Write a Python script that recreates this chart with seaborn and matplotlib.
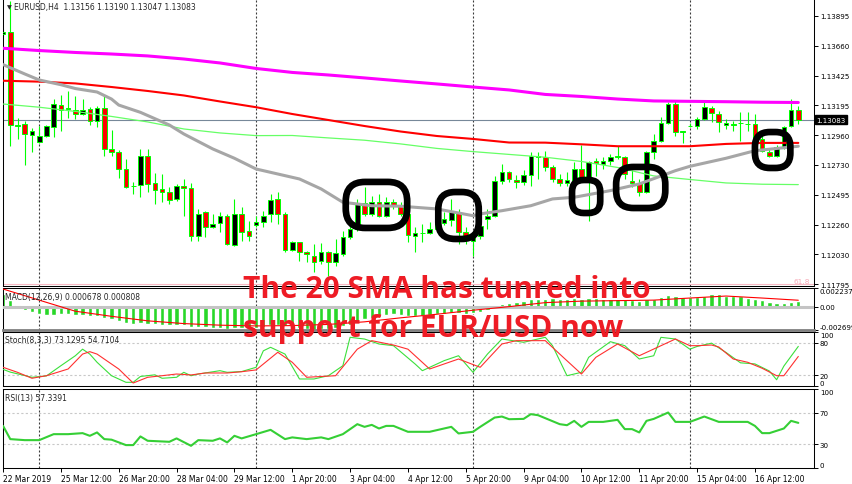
import matplotlib
matplotlib.use('Agg')
import matplotlib.pyplot as plt
import matplotlib.transforms as mtransforms
from matplotlib.patches import FancyBboxPatch
import seaborn as sns

sns.set_style('white')
plt.rcParams['font.family'] = ['DejaVu Sans']
plt.rcParams['axes.linewidth'] = 0.75

# EURUSD H4 candles, 22 Mar 2019 04:00 -> 17 Apr 2019 12:00 (one bar per 4 hours)
opens = [
    1.13755, 1.13771, 1.13041, 1.13047, 1.12965, 1.12911, 1.12953, 1.13023, 1.13197, 1.13166,
    1.13161, 1.13127, 1.13166, 1.13072, 1.13171, 1.12854, 1.12833, 1.12697, 1.12567, 1.12572,
    1.12801, 1.12585, 1.12541, 1.12515, 1.12463, 1.12562, 1.12546, 1.12176, 1.12359, 1.12241,
    1.12275, 1.12332, 1.12103, 1.12346, 1.12215, 1.12260, 1.12281, 1.12346, 1.12463, 1.12346,
    1.12067, 1.12124, 1.12051, 1.12020, 1.11981, 1.12051, 1.11968, 1.12033, 1.12163, 1.12228,
    1.12431, 1.12346, 1.12442, 1.12328, 1.12437, 1.12411, 1.12346, 1.12176, 1.12197, 1.12197,
    1.12228, 1.12275, 1.12301, 1.12359, 1.12202, 1.12137, 1.12176, 1.12306, 1.12332, 1.12606,
    1.12676, 1.12613, 1.12593, 1.12650, 1.12797, 1.12789, 1.12711, 1.12619, 1.12588, 1.12606,
    1.12697, 1.12632, 1.12762, 1.12736, 1.12762, 1.12797, 1.12789, 1.12606, 1.12588, 1.12520,
    1.12833, 1.12919, 1.13057, 1.13205, 1.12989, 1.13033, 1.13036, 1.13088, 1.13171, 1.13127,
    1.13041, 1.13041, 1.13057, 1.13049, 1.13049, 1.12932, 1.12833, 1.12801, 1.12867, 1.13036,
    1.13156]
highs = [
    1.13792, 1.14010, 1.13093, 1.13075, 1.13015, 1.13031, 1.13041, 1.13244, 1.13275, 1.13309,
    1.13265, 1.13244, 1.13179, 1.13187, 1.13265, 1.13004, 1.12846, 1.12775, 1.12593, 1.12854,
    1.12854, 1.12666, 1.12658, 1.12554, 1.12580, 1.12619, 1.12588, 1.12385, 1.12372, 1.12346,
    1.12359, 1.12346, 1.12463, 1.12398, 1.12293, 1.12332, 1.12372, 1.12502, 1.12515, 1.12359,
    1.12137, 1.12124, 1.12059, 1.12111, 1.12119, 1.12059, 1.12150, 1.12215, 1.12260, 1.12463,
    1.12554, 1.12489, 1.12502, 1.12476, 1.12463, 1.12437, 1.12361, 1.12241, 1.12267, 1.12285,
    1.12306, 1.12361, 1.12463, 1.12385, 1.12244, 1.12189, 1.12346, 1.12385, 1.12645, 1.12736,
    1.12684, 1.12650, 1.12692, 1.12828, 1.12830, 1.12838, 1.12729, 1.12658, 1.12671, 1.12750,
    1.12885, 1.12762, 1.12781, 1.12789, 1.12815, 1.12875, 1.12801, 1.12692, 1.12619, 1.12840,
    1.12971, 1.13101, 1.13219, 1.13239, 1.12997, 1.13057, 1.13101, 1.13219, 1.13192, 1.13153,
    1.13088, 1.13075, 1.13140, 1.13140, 1.13127, 1.12971, 1.12854, 1.12885, 1.13036, 1.13244,
    1.13190]
lows = [
    1.13740, 1.12880, 1.12932, 1.12730, 1.12833, 1.12901, 1.12945, 1.12945, 1.12997, 1.13093,
    1.13088, 1.13119, 1.13041, 1.13023, 1.12797, 1.12797, 1.12624, 1.12549, 1.12502, 1.12476,
    1.12515, 1.12424, 1.12442, 1.12424, 1.12450, 1.12332, 1.12137, 1.12137, 1.12163, 1.12236,
    1.12202, 1.12103, 1.12098, 1.12137, 1.12137, 1.12241, 1.12241, 1.12281, 1.12267, 1.12046,
    1.12059, 1.11981, 1.11968, 1.11890, 1.11955, 1.11863, 1.11942, 1.12020, 1.12150, 1.12215,
    1.12332, 1.12332, 1.12320, 1.12320, 1.12385, 1.12330, 1.12127, 1.12046, 1.12127, 1.12189,
    1.12213, 1.12260, 1.12254, 1.12111, 1.12111, 1.12020, 1.12150, 1.12228, 1.12320, 1.12580,
    1.12593, 1.12546, 1.12572, 1.12562, 1.12619, 1.12684, 1.12598, 1.12567, 1.12567, 1.12554,
    1.12619, 1.12293, 1.12645, 1.12697, 1.12729, 1.12775, 1.12619, 1.12554, 1.12489, 1.12510,
    1.12775, 1.12906, 1.13049, 1.12953, 1.12901, 1.13023, 1.13010, 1.13080, 1.13062, 1.12984,
    1.13010, 1.12997, 1.12918, 1.12997, 1.12906, 1.12828, 1.12789, 1.12789, 1.12854, 1.13023,
    1.13047]
closes = [
    1.13771, 1.13041, 1.13035, 1.12969, 1.12997, 1.12953, 1.13031, 1.13203, 1.13161, 1.13170,
    1.13127, 1.13161, 1.13072, 1.13171, 1.12854, 1.12833, 1.12697, 1.12554, 1.12561, 1.12801,
    1.12580, 1.12535, 1.12520, 1.12458, 1.12567, 1.12551, 1.12176, 1.12346, 1.12241, 1.12267,
    1.12332, 1.12111, 1.12346, 1.12207, 1.12176, 1.12281, 1.12332, 1.12457, 1.12346, 1.12067,
    1.12124, 1.12051, 1.12033, 1.11973, 1.12051, 1.11968, 1.12041, 1.12163, 1.12228, 1.12431,
    1.12346, 1.12442, 1.12328, 1.12442, 1.12411, 1.12346, 1.12181, 1.12197, 1.12195, 1.12228,
    1.12275, 1.12306, 1.12359, 1.12202, 1.12166, 1.12163, 1.12254, 1.12332, 1.12606, 1.12671,
    1.12619, 1.12593, 1.12650, 1.12801, 1.12789, 1.12711, 1.12619, 1.12588, 1.12611, 1.12697,
    1.12632, 1.12750, 1.12744, 1.12762, 1.12793, 1.12793, 1.12658, 1.12588, 1.12520, 1.12833,
    1.12919, 1.13057, 1.13205, 1.12989, 1.12992, 1.13036, 1.13088, 1.13179, 1.13135, 1.13062,
    1.13057, 1.13051, 1.13054, 1.13047, 1.12932, 1.12838, 1.12801, 1.12867, 1.13023, 1.13158,
    1.13083]

# moving averages, read every 5 bars (the 20 SMA read more densely)
ma_idx = list(range(0, 111, 5))
sma200 = [1.13641, 1.13623, 1.13608, 1.13596, 1.13581, 1.13557, 1.13526, 1.13483, 1.13452, 1.13432,
          1.13409, 1.13385, 1.13362, 1.13338, 1.13315, 1.13280, 1.13264, 1.13244, 1.13229, 1.13226,
          1.13223, 1.13219, 1.13217]
sma100 = [1.13387, 1.13380, 1.13366, 1.13338, 1.13307, 1.13272, 1.13225, 1.13180, 1.13127, 1.13080,
          1.13033, 1.12990, 1.12955, 1.12932, 1.12904, 1.12903, 1.12890, 1.12875, 1.12875, 1.12875,
          1.12893, 1.12901, 1.12901]
sma50 = [1.13205, 1.13180, 1.13147, 1.13108, 1.13065, 1.13010, 1.12979, 1.12958, 1.12959, 1.12940,
         1.12922, 1.12893, 1.12858, 1.12833, 1.12811, 1.12789, 1.12756, 1.12709, 1.12643, 1.12615,
         1.12588, 1.12578, 1.12575]
sma20_idx = [0, 3, 5, 8, 10, 13, 15, 16, 19, 23, 25, 29, 32, 35, 37, 41, 44, 47, 51, 55, 60, 65,
             66, 69, 73, 76, 79, 84, 88, 93, 95, 100, 104, 110]
sma20 = [1.13513, 1.13440, 1.13393, 1.13356, 1.13326, 1.13299, 1.13244, 1.13197, 1.13140, 1.13041,
         1.12971, 1.12854, 1.12781, 1.12697, 1.12671, 1.12619, 1.12541, 1.12437, 1.12410, 1.12406,
         1.12385, 1.12332, 1.12346, 1.12371, 1.12410, 1.12463, 1.12476, 1.12528, 1.12580, 1.12684,
         1.12718, 1.12781, 1.12840, 1.12875]

# MACD(12,26,9)
macd_hist = [
    0.0016, 0.0008, 0.0002, -0.0004, -0.0006, -0.0009, -0.0010, -0.00095, -0.0009, -0.0009,
    -0.00095, -0.0010, -0.00105, -0.0011, -0.0013, -0.0015, -0.0017, -0.0019, -0.0020, -0.0019,
    -0.0020, -0.00205, -0.0021, -0.00215, -0.0021, -0.00215, -0.0024, -0.0024, -0.00245, -0.0025,
    -0.0025, -0.0026, -0.0025, -0.0025, -0.00255, -0.0025, -0.0024, -0.0022, -0.0021, -0.0023,
    -0.0024, -0.0025, -0.0026, -0.0027, -0.0026, -0.0026, -0.0025, -0.0023, -0.0021, -0.0017,
    -0.0015, -0.0013, -0.0012, -0.0010, -0.0009, -0.0010, -0.0011, -0.0011, -0.0011, -0.0010,
    -0.0009, -0.0008, -0.0007, -0.0007, -0.0008, -0.0007, -0.0006, -0.0004, 0.0000, 0.0003,
    0.0005, 0.0006, 0.0007, 0.0009, 0.0010, 0.0010, 0.0011, 0.0010, 0.0010, 0.0011,
    0.0010, 0.0011, 0.0011, 0.0010, 0.0010, 0.0010, 0.0009, 0.0008, 0.0007, 0.0009,
    0.0010, 0.0012, 0.0014, 0.0013, 0.0012, 0.0012, 0.0012, 0.0013, 0.0015, 0.0015,
    0.00133, 0.0013, 0.0013, 0.0011, 0.0009, 0.0008, 0.0006, 0.0005, 0.0005, 0.0006,
    0.000678]
macd_signal = [0.00215, 0.00082, -0.00051, -0.00112, -0.00166, -0.00199, -0.00218, -0.00227,
               -0.00223, -0.00209, -0.00178, -0.00130, -0.00087, -0.00039, 0.00004, 0.00052,
               0.00070, 0.00076, 0.00082, 0.00107, 0.00131, 0.00107, 0.000808]

# Stochastic(8,3,3)
stoch_k_idx = [0, 1, 4, 6, 8, 10, 11, 12, 13, 15, 17, 18, 19, 21, 22, 24, 25, 26, 27, 30, 31, 33,
               35, 36, 37, 39, 41, 43, 45, 47, 48, 50, 52, 54, 57, 58, 61, 63, 65, 67, 69, 72, 75,
               76, 78, 80, 81, 84, 86, 88, 90, 91, 93, 95, 96, 98, 100, 102, 104, 106, 107, 108, 110]
stoch_k = [31, 26, 16.5, 19, 37.7, 56, 68, 59, 44, 19.4, 7.3, 7.3, 18, 21, 14.7, 16.5, 25.6, 19.4,
           22.5, 28.6, 25.6, 27, 34.8, 65, 71.4, 59, 13.4, 13.4, 19.4, 37.7, 89.7, 86.6, 77.5, 74.4,
           40.8, 28.6, 46.9, 56, 25.6, 59, 86.6, 80.6, 89.7, 74.4, 19.4, 25.6, 53.1, 81.7, 74.4, 50,
           56, 89.7, 86.6, 68, 73, 79, 62, 43, 41, 28, 12, 37, 73.13]
stoch_d_idx = [0, 2, 4, 6, 9, 11, 12, 13, 16, 18, 20, 22, 24, 26, 28, 31, 33, 35, 38, 40, 42, 46,
               49, 51, 54, 56, 59, 63, 66, 69, 71, 75, 77, 80, 82, 85, 88, 93, 95, 96, 98, 99, 101,
               103, 105, 107, 108, 110]
stoch_d = [34.8, 25.6, 14.7, 19.4, 31.7, 59, 63.4, 59, 31.7, 6, 16.5, 19.4, 22.5, 20.8, 24.4, 24.4,
           26.7, 30, 62.3, 44, 16.5, 19.4, 68, 83.6, 75.6, 68, 31.7, 50, 34.8, 77.5, 83.6, 83.6, 59,
           22.5, 53.1, 77.5, 56, 86.6, 74.4, 74.4, 75.6, 72, 50, 44, 33, 19.4, 19.4, 54.71]

# RSI(13)
rsi_idx = [0, 1, 3, 5, 7, 9, 11, 12, 13, 14, 15, 17, 18, 19, 20, 23, 24, 26, 27, 29, 30, 31, 32,
           33, 35, 37, 39, 40, 42, 44, 45, 47, 49, 50, 51, 52, 53, 54, 56, 59, 62, 63, 65, 66, 68,
           69, 70, 72, 73, 74, 77, 78, 79, 80, 81, 83, 85, 86, 87, 88, 89, 90, 92, 93, 95, 96, 97,
           99, 103, 104, 105, 106, 108, 109, 110]
rsi_vals = [53.5, 36.7, 35.4, 35.4, 43, 43, 44.3, 40.9, 45.2, 36.7, 36, 29.1, 29.1, 40.1, 34.6,
            33.3, 37.6, 28.2, 35.4, 34.6, 37.6, 32.5, 40.9, 37.6, 43, 48.5, 36.7, 38.9, 36.7, 38.9,
            36.7, 43, 55.7, 52.3, 54.8, 50.2, 53.5, 53.5, 46, 46, 52.3, 43.9, 46, 52.3, 64.1, 65.4,
            62, 62.4, 68.4, 67.1, 55.7, 54.4, 59.9, 52.3, 58.6, 58.6, 61.2, 49.4, 49.4, 45.2, 59.9,
            62.4, 70.5, 58.6, 58.6, 62, 65.4, 58.6, 58.6, 53.5, 44.3, 44.3, 50.2, 59.9, 57.34]

price_ticks = [1.13895, 1.13660, 1.13425, 1.13195, 1.12960, 1.12730, 1.12495, 1.12260, 1.12030, 1.11795]
xtick_idx = [0, 8, 16, 24, 32, 40, 48, 56, 64, 72, 80, 88, 96, 104]
xtick_labels = ['22 Mar 2019', '25 Mar 12:00', '26 Mar 20:00', '28 Mar 04:00', '29 Mar 12:00',
                '1 Apr 20:00', '3 Apr 04:00', '4 Apr 12:00', '5 Apr 20:00', '9 Apr 04:00',
                '10 Apr 12:00', '11 Apr 20:00', '15 Apr 04:00', '16 Apr 12:00']
week_starts = [5, 35, 65, 95]
last_price = 1.13083
fib_618 = 1.11798

# hand-drawn highlight boxes: (first bar, last bar, low price, high price)
highlight_boxes = [
    (47.4, 55.9, 1.12236, 1.12596),
    (60.2, 65.8, 1.12150, 1.12517),
    (78.7, 82.6, 1.12353, 1.12611),
    (84.8, 91.6, 1.12392, 1.12713),
    (104.0, 108.9, 1.12705, 1.12986),
]

W, H = 852, 485
fig = plt.figure(figsize=(W / 100, H / 100), dpi=100)
fig.patch.set_facecolor('white')
idx = list(range(len(opens)))
XLIM = (-0.05, 112.17)


def add_panel(top, bottom, left=2.7, right=814):
    a = fig.add_axes([left / W, 1 - bottom / H, (right - left) / W, (bottom - top) / H])
    a.set_facecolor('white')
    for s in a.spines.values():
        s.set_color('black')
        s.set_linewidth(0.75)
    a.yaxis.tick_right()
    a.tick_params(axis='y', length=3, width=0.7, pad=1.2, labelsize=5.1, colors='black',
                  direction='out', left=False, right=True)
    for b in week_starts:
        a.axvline(b, color='#3a3a3a', lw=0.8, ls=(0, (1.8, 1.8)), zorder=0.5)
    return a


# main price panel
ax = add_panel(0, 287.3)
ax.spines['top'].set_visible(False)
ax.axhline(fib_618, color='#f7b9c3', lw=0.8, zorder=1)
ax.text(111.6, fib_618, '61.8', color='#f7a8b5', fontsize=5.3, ha='right', va='bottom')
ax.axhline(last_price, color='#778899', lw=0.8, zorder=1)
ax.vlines(idx, lows, highs, color='#00ff00', lw=0.8, zorder=2)
bottoms = [min(o, c) for o, c in zip(opens, closes)]
heights = [max(abs(c - o), 0.00003) for o, c in zip(opens, closes)]
body_colors = ['black' if c >= o else 'red' for o, c in zip(opens, closes)]
ax.bar(idx, heights, bottom=bottoms, width=0.64, color=body_colors, edgecolor='#00ff00',
       linewidth=0.7, zorder=3)
sns.lineplot(x=ma_idx, y=sma50, ax=ax, color='#66ff66', linewidth=0.9, zorder=4)
sns.lineplot(x=ma_idx, y=sma100, ax=ax, color='#ff0000', linewidth=1.5, zorder=4)
sns.lineplot(x=ma_idx, y=sma200, ax=ax, color='#ff00ff', linewidth=2.2, zorder=4)
sns.lineplot(x=sma20_idx, y=sma20, ax=ax, color='#a6a6a6', linewidth=2.2, zorder=4)
ax.set_xlim(*XLIM)
ax.set_ylim(1.11780, 1.14026)
ax.set_xticks([])
ax.set_yticks(price_ticks)
ax.set_yticklabels([f'{p:.5f}' for p in price_ticks])
trans = mtransforms.blended_transform_factory(ax.transAxes, ax.transData)
ax.text(1.003, last_price, f'{last_price:.5f}', transform=trans, color='white', fontsize=5.1,
        ha='left', va='center', zorder=6, clip_on=False,
        bbox=dict(boxstyle='square,pad=0.25', fc='black', ec='black'))

# MACD panel
ax_m = add_panel(289.3, 330.5)
ax_m.bar(idx, macd_hist, width=0.6, color='#28d728', zorder=2)
ax_m.axhline(0, color='#c4c4c4', lw=2.2, zorder=3)
sns.lineplot(x=ma_idx, y=macd_signal, ax=ax_m, color='#ff0000', linewidth=0.8, zorder=4)
ax_m.spines['bottom'].set_color('#7f7f7f')
ax_m.spines['bottom'].set_linewidth(2)
ax_m.set_xlim(*XLIM)
ax_m.set_ylim(-0.002699, 0.002237)
ax_m.set_xticks([])
ax_m.set_yticks([0.002237, 0.0, -0.002699])
ax_m.set_yticklabels(['0.002237', '0.00', '-0.002699'])

# Stochastic panel
ax_s = add_panel(332.7, 387.3)
for lv in (80, 20):
    ax_s.axhline(lv, color='#c8c8c8', lw=0.8, ls=(0, (2, 2)), zorder=1)
sns.lineplot(x=stoch_k_idx, y=stoch_k, ax=ax_s, color='#3be03b', linewidth=0.8, zorder=3)
sns.lineplot(x=stoch_d_idx, y=stoch_d, ax=ax_s, color='#ff3030', linewidth=0.8, zorder=3)
ax_s.set_xlim(*XLIM)
ax_s.set_ylim(0, 100)
ax_s.set_xticks([])
ax_s.set_yticks([100, 80, 20, 0])
ax_s.set_yticklabels(['100', '80', '20', '0'])

# RSI panel
ax_r = add_panel(390.3, 469)
for lv in (70, 30):
    ax_r.axhline(lv, color='#c8c8c8', lw=0.8, ls=(0, (2, 2)), zorder=1)
sns.lineplot(x=rsi_idx, y=rsi_vals, ax=ax_r, color='#35cf35', linewidth=1.5, zorder=3)
ax_r.set_xlim(*XLIM)
ax_r.set_ylim(0, 100)
ax_r.set_yticks([100, 70, 30, 0])
ax_r.set_yticklabels(['100', '70', '30', '0'])
ax_r.set_xticks(xtick_idx)
ax_r.set_xticklabels(xtick_labels, ha='left')
ax_r.tick_params(axis='x', length=3, width=0.7, pad=1.5, labelsize=5.5, colors='black',
                 direction='out', bottom=True)

for a in (ax, ax_m, ax_s, ax_r):
    a.set_xlabel('')
    a.set_ylabel('')
    if a is not ax:
        labs = a.get_yticklabels()
        labs[0].set_va('top')
        labs[-1].set_va('bottom')

# header and indicator captions
fig.text(7 / W, 1 - 7.3 / H, '\u25bc', fontsize=4.5, va='center', ha='left')
fig.text(14 / W, 1 - 7.3 / H, 'EURUSD,H4  1.13156 1.13190 1.13047 1.13083', fontsize=5.5,
         va='center', ha='left')
fig.text(5 / W, 1 - 297.3 / H, 'MACD(12,26,9) 0.000678 0.000808', fontsize=5.5, va='center')
fig.text(5 / W, 1 - 341 / H, 'Stoch(8,3,3) 73.1295 54.7104', fontsize=5.5, va='center')
fig.text(5 / W, 1 - 398.3 / H, 'RSI(13) 57.3391', fontsize=5.5, va='center')

# black highlight rings
for x0, x1, p0, p1 in highlight_boxes:
    dx0, dy0 = ax.transData.transform((x0, p0))
    dx1, dy1 = ax.transData.transform((x1, p1))
    w_in = (dx1 - dx0) / fig.dpi
    h_in = (dy1 - dy0) / fig.dpi
    r = 0.42 * min(w_in, h_in)
    ring = FancyBboxPatch((dx0 / fig.dpi, dy0 / fig.dpi), w_in, h_in,
                          boxstyle=f'round,pad=0,rounding_size={r}',
                          transform=fig.dpi_scale_trans, fill=False, ec='black', lw=4.8,
                          zorder=8)
    fig.add_artist(ring)

# red annotation
for txt, base in (('The 20 SMA has tunred into', 297.5), ('support for EUR/USD now', 337)):
    fig.text(243 / W, 1 - base / H, txt, fontsize=21.5, fontweight='bold', color='#ee1c25',
             family=['Open Sans', 'DejaVu Sans'], ha='left', va='baseline', zorder=10)

fig.savefig('out.png', dpi=100, facecolor='white')
